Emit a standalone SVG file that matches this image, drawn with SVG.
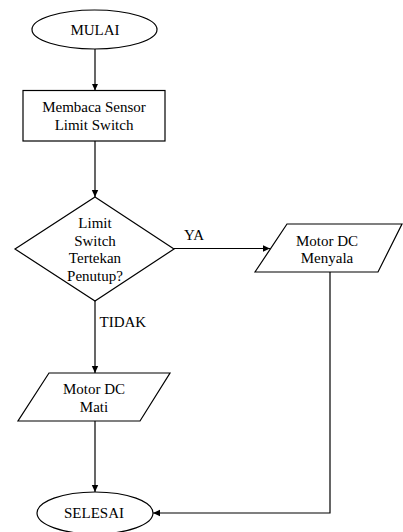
<svg xmlns="http://www.w3.org/2000/svg" width="403" height="532" viewBox="0 0 403 532">
<style>
.s{fill:#fff;stroke:#000;stroke-width:1.2}
.t{font-family:'Liberation Serif','Times New Roman',serif;font-size:15px;fill:#000;text-anchor:middle}
.l{font-family:'Liberation Serif','Times New Roman',serif;font-size:15px;fill:#000}
.c{fill:none;stroke:#000;stroke-width:1.2}
</style>
<defs>
<marker id="a" markerWidth="8" markerHeight="8" refX="7" refY="4" orient="auto" markerUnits="userSpaceOnUse">
<path d="M0,0.8 L7,4 L0,7.2 Z" fill="#000"/>
</marker>
</defs>
<g id="connectors">
<line class="c" x1="95" y1="49" x2="95" y2="90.5" marker-end="url(#a)"/>
<line class="c" x1="95" y1="141" x2="95" y2="197" marker-end="url(#a)"/>
<line class="c" x1="174" y1="248.5" x2="270" y2="248.5" marker-end="url(#a)"/>
<line class="c" x1="95" y1="301" x2="95" y2="373" marker-end="url(#a)"/>
<line class="c" x1="95" y1="421" x2="95" y2="492" marker-end="url(#a)"/>
<polyline class="c" points="330,272 330,513 153,513" marker-end="url(#a)"/>
<text class="l" x="184" y="240">YA</text>
<text class="l" x="99.5" y="326.5">TIDAK</text>
</g>
<g id="mulai">
<ellipse class="s" cx="94.5" cy="29.5" rx="62.5" ry="19.5"/>
<text class="t" x="95" y="34.5">MULAI</text>
</g>
<g id="baca">
<rect class="s" x="23" y="90.5" width="142" height="50.5"/>
<text class="t" x="94" y="112">Membaca Sensor</text>
<text class="t" x="94" y="130">Limit Switch</text>
</g>
<g id="cek">
<polygon class="s" points="95,197 174,249 95,301 15,249"/>
<text class="t" x="95" y="228">Limit</text>
<text class="t" x="95" y="245.5">Switch</text>
<text class="t" x="95" y="263">Tertekan</text>
<text class="t" x="95" y="280.5">Penutup?</text>
</g>
<g id="menyala">
<polygon class="s" points="287,224 402,224 378,272 255,272"/>
<text class="t" x="327" y="246">Motor DC</text>
<text class="t" x="327" y="263">Menyala</text>
</g>
<g id="mati">
<polygon class="s" points="49,373 170,373 140,421 18,421"/>
<text class="t" x="94" y="394">Motor DC</text>
<text class="t" x="94" y="411.5">Mati</text>
</g>
<g id="selesai">
<ellipse class="s" cx="95" cy="513" rx="58" ry="21"/>
<text class="t" x="94" y="518">SELESAI</text>
</g>
</svg>
